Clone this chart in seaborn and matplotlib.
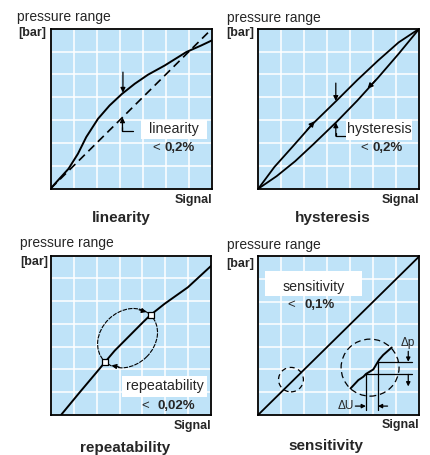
import matplotlib
matplotlib.use("Agg")
import matplotlib.pyplot as plt
from matplotlib.patches import Rectangle, Circle, Ellipse
import seaborn as sns
import numpy as np

# ---------------- data (panel units 0..7) ----------------
grid_ticks = list(range(8))

# linearity
lin_curve_x = [0, 0.39, 0.78, 1.19, 1.55, 2.06, 2.56, 3.1, 3.65, 4.23, 4.95, 5.89, 6.54, 7.0]
lin_curve_y = [0, 0.44, 0.87, 1.53, 2.26, 3.06, 3.64, 4.15, 4.59, 4.99, 5.39, 5.98, 6.27, 6.49]
lin_ideal_x = [0, 7]
lin_ideal_y = [0, 7]

# hysteresis
hys_up_x = [0, 0.7, 1.5, 2.35, 3.4, 4.3, 5.2, 6.1, 7.0]
hys_up_y = [0, 0.95, 1.85, 2.82, 3.85, 4.75, 5.6, 6.4, 7.0]
hys_down_x = [0, 0.8, 1.6, 2.4, 3.4, 4.3, 5.2, 6.1, 7.0]
hys_down_y = [0, 0.55, 1.2, 1.95, 2.92, 3.85, 4.85, 5.9, 7.0]

# repeatability
rep_x = [0.46, 1.26, 2.06, 2.38, 2.79, 3.44, 4.02, 4.35, 4.96, 5.98, 7.0]
rep_y = [0.0, 0.98, 1.94, 2.33, 2.82, 3.48, 4.07, 4.39, 4.88, 5.61, 6.56]
rep_pts_x = [2.38, 4.35]
rep_pts_y = [2.33, 4.39]

# sensitivity
sen_x = [0, 7]
sen_y = [0, 7]
stair_x = [4.01, 4.35, 4.57, 4.68, 5.0, 5.2, 5.26, 5.43, 5.8]
stair_y = [1.16, 1.53, 1.68, 1.8, 2.0, 2.34, 2.44, 2.64, 2.97]

titles = ["linearity", "hysteresis", "repeatability", "sensitivity"]
box_labels = ["linearity", "hysteresis", "repeatability", "sensitivity"]
box_values = ["0,2%", "0,2%", "0,02%", "0,1%"]

# ---------------- style ----------------
BLUE = "#bfe3f8"
sns.set_style("whitegrid", {"axes.facecolor": BLUE, "grid.color": "white",
                            "axes.edgecolor": "black", "axes.linewidth": 1.2})
plt.rcParams["font.family"] = ["Liberation Sans", "DejaVu Sans"]

W, H = 430, 455
fig = plt.figure(figsize=(W / 100, H / 100), dpi=100)


def make_ax(l, r, t, b):
    ax = fig.add_axes([l / W, 1 - b / H, (r - l) / W, (b - t) / H])
    ax.set_xlim(0, 7)
    ax.set_ylim(0, 7)
    ax.set_xticks(grid_ticks)
    ax.set_yticks(grid_ticks)
    ax.set_xticklabels([])
    ax.set_yticklabels([])
    ax.tick_params(length=0)
    ax.grid(True, color="white", lw=1.1)
    ax.set_axisbelow(True)
    for s in ax.spines.values():
        s.set_color("black")
        s.set_linewidth(1.3)
    return ax


def ftext(x, y, s, **kw):
    fig.text(x / W, 1 - y / H, s, va="center", **kw)


def arrow(ax, start, end, ms=7, lw=0.9):
    ax.annotate("", xy=end, xytext=start,
                arrowprops=dict(arrowstyle="-|>", color="black", lw=lw,
                                mutation_scale=ms, shrinkA=0, shrinkB=0),
                zorder=6)


def line(ax, x, y, **kw):
    kw.setdefault("color", "black")
    kw.setdefault("lw", 1.2)
    sns.lineplot(x=x, y=y, sort=False, estimator=None, ax=ax, **kw)


def white_box(ax, x0, x1, y0, y1, label, tx, ty, lt_x, val_x, val_y, val):
    ax.add_patch(Rectangle((x0, y0), x1 - x0, y1 - y0, facecolor="white",
                           edgecolor="none", zorder=3))
    ax.text(tx, ty, label, ha="center", va="center", fontsize=10.3, zorder=4)
    ax.text(lt_x, val_y, "<", ha="center", va="center", fontsize=9.5, zorder=4)
    ax.text(val_x, val_y, val, ha="left", va="center", fontsize=9.5,
            fontweight="bold", zorder=4)


def labels(px_pr, py_pr, px_bar, py_bar, px_sig, py_sig, px_t, py_t, title):
    ftext(px_pr, py_pr, "pressure range", ha="left", fontsize=10)
    ftext(px_bar, py_bar, "[bar]", ha="right", fontsize=9, fontweight="bold")
    ftext(px_sig, py_sig, "Signal", ha="right", fontsize=9, fontweight="bold")
    ftext(px_t, py_t, title, ha="center", fontsize=11, fontweight="bold")


# ---------------- panel 1 : linearity ----------------
ax1 = make_ax(50.5, 212, 28.7, 188.7)
line(ax1, lin_ideal_x, lin_ideal_y, lw=1.2, linestyle=(0, (5, 3)))
line(ax1, lin_curve_x, lin_curve_y, lw=1.4)
arrow(ax1, (3.14, 5.1), (3.14, 4.2))
arrow(ax1, (3.12, 2.52), (3.12, 3.12))
line(ax1, [3.12, 3.12, 3.57], [2.7, 2.52, 2.52], lw=0.9)
white_box(ax1, 3.91, 6.8, 2.16, 3.02, box_labels[0], 5.35, 2.59, 4.57, 4.92, 1.79, box_values[0])
labels(17, 17, 46, 33, 212, 200, 121, 218, titles[0])

# ---------------- panel 2 : hysteresis ----------------
ax2 = make_ax(258.3, 419.3, 28.7, 188.7)
line(ax2, hys_up_x, hys_up_y, lw=1.3)
line(ax2, hys_down_x, hys_down_y, lw=1.3)
arrow(ax2, (2.1, 2.55), (2.45, 2.95), ms=8)
arrow(ax2, (5.1, 4.75), (4.75, 4.38), ms=8)
arrow(ax2, (3.37, 4.62), (3.37, 3.84))
arrow(ax2, (3.37, 2.3), (3.37, 2.9))
line(ax2, [3.37, 3.37, 3.83], [2.45, 2.3, 2.3], lw=0.9)
white_box(ax2, 3.83, 6.7, 2.11, 3.06, box_labels[1], 5.28, 2.59, 4.62, 4.96, 1.79, box_values[1])
labels(226.7, 18, 254, 33, 419.3, 200, 332.5, 218, titles[1])

# ---------------- panel 3 : repeatability ----------------
ax3 = make_ax(50.7, 211.3, 255.7, 414.7)
line(ax3, rep_x, rep_y, lw=1.4)
ax3.add_patch(Ellipse((3.35, 3.37), 2.86, 2.34, angle=45, fill=False,
                      edgecolor="black", lw=0.8, linestyle=(0, (4, 1)), zorder=4))
sns.scatterplot(x=rep_pts_x, y=rep_pts_y, marker="s", s=16, color="white",
                edgecolor="black", linewidth=0.9, ax=ax3, zorder=7)
arrow(ax3, (3.85, 4.62), (4.18, 4.52), ms=7)
arrow(ax3, (2.98, 2.1), (2.65, 2.17), ms=7)
white_box(ax3, 3.1, 6.82, 0.76, 1.72, box_labels[2], 4.96, 1.25, 4.13, 4.67, 0.4, box_values[2])
labels(20, 243, 48, 262, 211.3, 426, 125, 448, titles[2])

# ---------------- panel 4 : sensitivity ----------------
ax4 = make_ax(258.3, 419.3, 256.3, 414.7)
line(ax4, sen_x, sen_y, lw=1.3)
ax4.add_patch(Circle((1.42, 1.55), 0.54, fill=False, edgecolor="black",
                     lw=0.9, linestyle=(0, (4, 3)), zorder=4))
ax4.add_patch(Circle((4.86, 2.08), 1.26, fill=False, edgecolor="black",
                     lw=0.9, linestyle=(0, (5, 3)), zorder=4))
line(ax4, stair_x, stair_y, lw=1.4)
line(ax4, [5.2, 6.67], [2.34, 2.34], lw=0.9)
line(ax4, [4.68, 6.67], [1.78, 1.78], lw=0.9)
line(ax4, [4.68, 4.68], [1.8, 0.22], lw=0.9)
line(ax4, [5.2, 5.2], [2.34, 0.22], lw=0.9)
arrow(ax4, (4.22, 0.38), (4.68, 0.38), ms=6)
arrow(ax4, (5.62, 0.38), (5.2, 0.38), ms=6)
arrow(ax4, (6.52, 2.8), (6.52, 2.34), ms=6)
arrow(ax4, (6.52, 1.78), (6.52, 1.25), ms=6)
ax4.text(4.18, 0.4, "ΔU", ha="right", va="center", fontsize=8.5, zorder=5)
ax4.text(6.48, 3.17, "Δp", ha="center", va="center", fontsize=8.5, zorder=5)
ax4.add_patch(Rectangle((0.29, 5.23), 4.2, 1.1, facecolor="white",
                        edgecolor="none", zorder=3))
ax4.text(2.39, 5.63, box_labels[3], ha="center", va="center", fontsize=10.3, zorder=4)
ax4.text(1.45, 4.83, "<", ha="center", va="center", fontsize=9.5, zorder=4)
ax4.text(2.0, 4.83, box_values[3], ha="left", va="center", fontsize=9.5,
         fontweight="bold", zorder=4)
labels(226.7, 245, 254, 263.7, 419.3, 425, 325.8, 446, titles[3])

for a in (ax1, ax2, ax3, ax4):
    a.set_xlabel("")
    a.set_ylabel("")
    if a.get_legend():
        a.get_legend().remove()

fig.savefig("out.png", dpi=100)
